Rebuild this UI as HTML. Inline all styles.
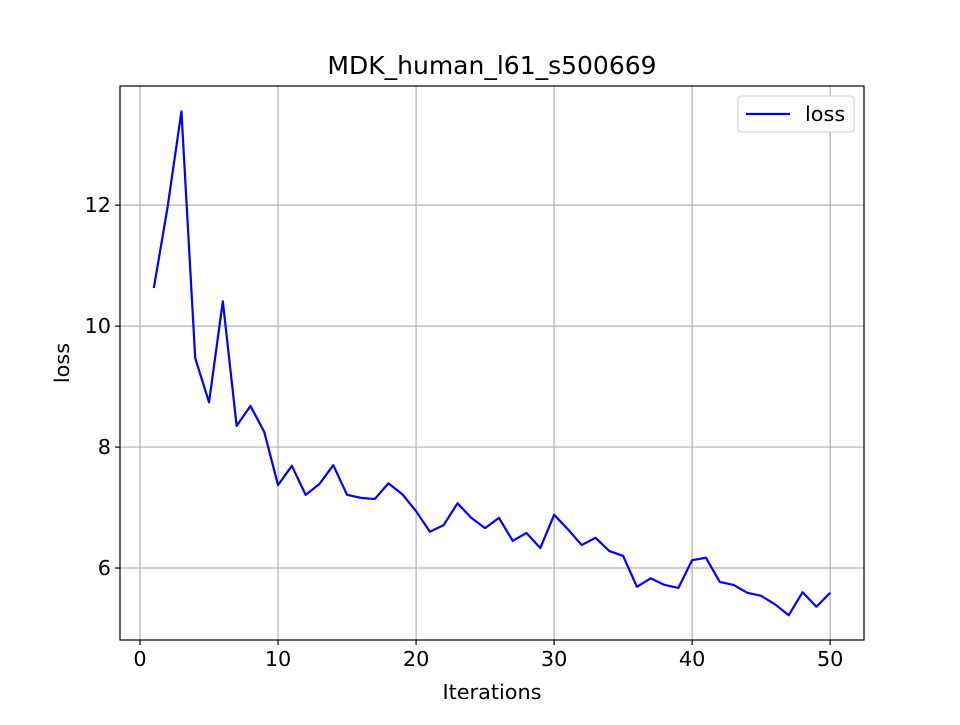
<!DOCTYPE html>
<html><head><meta charset="utf-8"><style>
body{margin:0;background:#fff}
svg text{font-family:"DejaVu Sans","Liberation Sans",sans-serif;fill:#000}
</style></head><body>
<svg id="chart" width="960" height="720" viewBox="0 0 960 720">
<rect width="960" height="720" fill="#fff"/>
<g id="grid"></g>
<g id="ticks"></g>
<polyline id="line" fill="none" stroke="#0000ff" stroke-width="2.2" stroke-linejoin="round"/>
<rect x="120" y="86" width="744" height="554" fill="none" stroke="#000" stroke-width="1.2"/>
<text x="492" y="74" font-size="25" text-anchor="middle">MDK_human_l61_s500669</text>
<text x="492" y="699" font-size="20.8" text-anchor="middle">Iterations</text>
<text x="69" y="363" font-size="20.8" text-anchor="middle" transform="rotate(-90 69 363)">loss</text>
<g>
<rect x="738" y="96" width="116" height="36" rx="3" fill="#fff" stroke="#ccc" stroke-width="1"/>
<line x1="746" y1="114" x2="790" y2="114" stroke="#0000ff" stroke-width="2.2"/>
<text x="805" y="121" font-size="20.8">loss</text>
</g>
</svg>
<script>
const iterations=[1,2,3,4,5,6,7,8,9,10,11,12,13,14,15,16,17,18,19,20,21,22,23,24,25,26,27,28,29,30,31,32,33,34,35,36,37,38,39,40,41,42,43,44,45,46,47,48,49,50];
const lossValues=[10.63,11.97,13.55,9.47,8.74,10.41,8.35,8.68,8.25,7.37,7.69,7.21,7.39,7.70,7.21,7.16,7.14,7.40,7.22,6.94,6.60,6.71,7.07,6.83,6.66,6.83,6.45,6.58,6.33,6.88,6.64,6.38,6.50,6.28,6.20,5.69,5.83,5.72,5.67,6.13,6.17,5.77,5.72,5.59,5.54,5.40,5.22,5.60,5.36,5.59];
const xTicks=[0,10,20,30,40,50];
const yTicks=[6,8,10,12];
const X0=120,X1=864,Y0=86,Y1=640,xmin=-1.45,xmax=52.45,ymin=4.81,ymax=13.97;
const sx=v=>X0+(v-xmin)/(xmax-xmin)*(X1-X0);
const sy=v=>Y1-(v-ymin)/(ymax-ymin)*(Y1-Y0);
const NS="http://www.w3.org/2000/svg";
const grid=document.getElementById('grid'),ticks=document.getElementById('ticks');
function mk(tag,attrs,parent){const e=document.createElementNS(NS,tag);for(const k in attrs)e.setAttribute(k,attrs[k]);parent.appendChild(e);return e;}
xTicks.forEach(t=>{const x=sx(t);
const g=mk('line',{x1:x,x2:x,y1:Y0,y2:Y1,stroke:'#b0b0b0','stroke-width':1.2},grid);


mk('line',{x1:x,x2:x,y1:Y1,y2:Y1+5,stroke:'#000','stroke-width':1.2},ticks);
const tx=mk('text',{x:x,y:Y1+26,'font-size':20.8,'text-anchor':'middle'},ticks);tx.textContent=t;

});
yTicks.forEach(t=>{const y=sy(t);
const g=mk('line',{x1:X0,x2:X1,y1:y,y2:y,stroke:'#b0b0b0','stroke-width':1.2},grid);


mk('line',{x1:X0-5,x2:X0,y1:y,y2:y,stroke:'#000','stroke-width':1.2},ticks);
const tx=mk('text',{x:X0-9,y:y+7,'font-size':20.8,'text-anchor':'end'},ticks);tx.textContent=t;

});
document.getElementById('line').setAttribute('points',iterations.map((it,i)=>sx(it)+','+sy(lossValues[i])).join(' '));
</script>
</body></html>
